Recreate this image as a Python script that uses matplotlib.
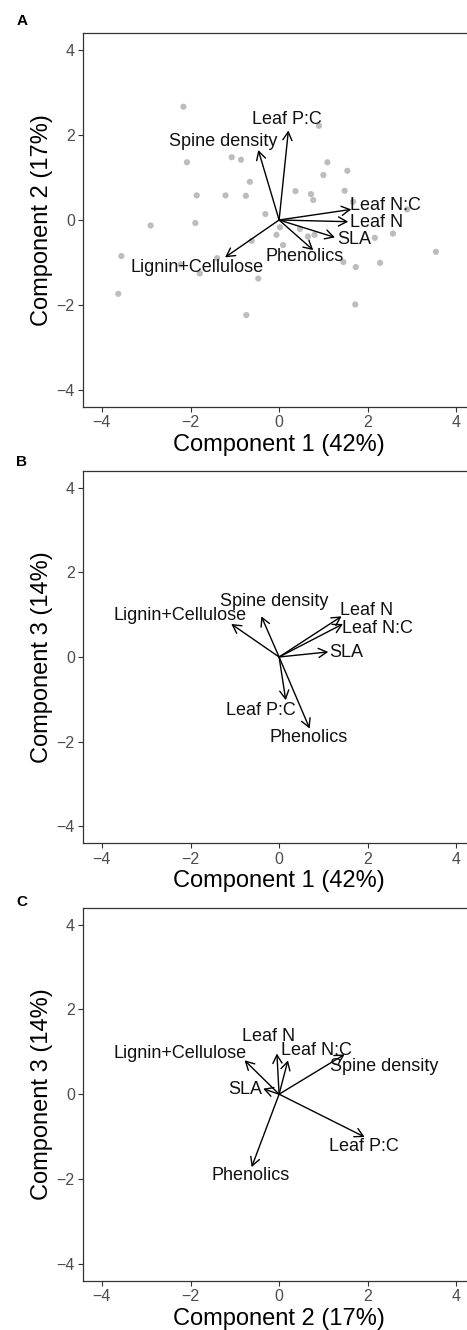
import matplotlib
matplotlib.use("Agg")
import matplotlib.pyplot as plt

plt.rcParams['font.family'] = ['Liberation Sans', 'DejaVu Sans']

# ---------------- data ----------------
variables = ["Leaf P:C", "Spine density", "Leaf N:C", "Leaf N", "SLA", "Phenolics", "Lignin+Cellulose"]

# Panel A: Component 1 vs Component 2
a_arrow_x = [0.21, -0.47, 1.63, 1.56, 1.26, 0.77, -1.22]
a_arrow_y = [2.11, 1.65, 0.25, -0.04, -0.41, -0.71, -0.88]
a_label_x = [0.18, -1.26, 2.39, 2.21, 1.69, 0.58, -1.85]
a_label_y = [2.38, 1.86, 0.33, -0.06, -0.47, -0.86, -1.12]

# scores (panel A only)
score_x = [-2.16, 0.90, -2.08, -1.07, -0.86, 1.09, 1.54, 1.00, -0.66, -1.86,
           -1.21, -0.75, 0.37, 0.72, 0.77, 1.48, 1.67, 2.89, -0.31, -1.89,
           -2.90, 0.02, -0.06, 0.65, 0.80, 0.09, -0.62, 0.47, 2.16, 2.57,
           3.54, -3.56, -1.40, -2.22, -1.79, -0.47, 1.45, 1.73, 2.28, -3.63,
           1.72, -0.74]
score_y = [2.67, 2.22, 1.36, 1.48, 1.42, 1.36, 1.16, 1.06, 0.90, 0.58,
           0.58, 0.57, 0.68, 0.61, 0.47, 0.69, 0.43, 0.25, 0.14, -0.07,
           -0.13, -0.17, -0.35, -0.39, -0.35, -0.59, -0.49, -0.21, -0.42, -0.32,
           -0.75, -0.85, -0.90, -1.05, -1.26, -1.38, -0.99, -1.11, -1.01, -1.74,
           -1.99, -2.24]

# Panel B: Component 1 vs Component 3
b_arrow_x = [0.15, -0.40, 1.44, 1.41, 1.11, 0.69, -1.08]
b_arrow_y = [-1.02, 0.96, 0.78, 0.96, 0.12, -1.69, 0.78]
b_label_x = [-0.41, -0.10, 2.21, 1.97, 1.52, 0.67, -2.24]
b_label_y = [-1.26, 1.31, 0.68, 1.11, 0.11, -1.91, 0.97]

# Panel C: Component 2 vs Component 3
c_arrow_x = [1.93, 1.48, 0.20, -0.05, -0.36, -0.62, -0.78]
c_arrow_y = [-1.01, 0.94, 0.80, 0.96, 0.13, -1.72, 0.80]
c_label_x = [1.91, 2.37, 0.85, -0.23, -0.77, -0.64, -2.23]
c_label_y = [-1.23, 0.65, 1.03, 1.36, 0.11, -1.92, 0.96]

ticks = [-4, -2, 0, 2, 4]
tick_labels = ["\u22124", "\u22122", "0", "2", "4"]

# ---------------- figure ----------------
W, H = 467, 1330
fig = plt.figure(figsize=(W / 100, H / 100), dpi=100)

def px_axes(left, top, right, bottom):
    return [left / W, 1 - bottom / H, (right - left) / W, (bottom - top) / H]

axA = fig.add_axes(px_axes(83.3, 33.3, 474.9, 406.7))
axB = fig.add_axes(px_axes(83.3, 470.7, 474.9, 843.3))
axC = fig.add_axes(px_axes(83.3, 907.7, 474.9, 1280.7))

def style(ax, xlabel, ylabel):
    ax.set_xlim(-4.42, 4.42)
    ax.set_ylim(-4.4, 4.4)
    ax.set_xticks(ticks)
    ax.set_xticklabels(tick_labels)
    ax.set_yticks(ticks)
    ax.set_yticklabels(tick_labels)
    for s in ax.spines.values():
        s.set_color('#333333')
        s.set_linewidth(0.9)
    ax.tick_params(length=3.6, width=0.8, color='#333333', labelcolor='#4D4D4D',
                   labelsize=11.5, pad=2.5)
    ax.set_xlabel(xlabel, fontsize=17, color='black', va='center')
    ax.set_ylabel(ylabel, fontsize=17, color='black', va='center')
    ax.xaxis.set_label_coords(0.5, -38.0 / 373.4)
    ax.yaxis.set_label_coords(-41.6 / 391.6, 0.5)

def biplot(ax, ax_x, ax_y, lx, ly):
    for name, x, y, tx, ty in zip(variables, ax_x, ax_y, lx, ly):
        ax.annotate('', xy=(x, y), xytext=(0, 0),
                    arrowprops=dict(arrowstyle='->,head_length=0.6,head_width=0.33',
                                    lw=1.0, color='black', shrinkA=0, shrinkB=0),
                    zorder=3)
        ax.text(tx, ty, name, ha='center', va='center', fontsize=13, color='#111111', zorder=4)

axA.scatter(score_x, score_y, s=20, color='#BDBDBD', edgecolors='none', zorder=2)
biplot(axA, a_arrow_x, a_arrow_y, a_label_x, a_label_y)
style(axA, "Component 1 (42%)", "Component 2 (17%)")

biplot(axB, b_arrow_x, b_arrow_y, b_label_x, b_label_y)
style(axB, "Component 1 (42%)", "Component 3 (14%)")

biplot(axC, c_arrow_x, c_arrow_y, c_label_x, c_label_y)
style(axC, "Component 2 (17%)", "Component 3 (14%)")

for letter, ypx in [("A", 20.7), ("B", 461.5), ("C", 901.7)]:
    fig.text(21.7 / W, 1 - ypx / H, letter, ha='center', va='center',
             fontsize=11, fontweight='bold')

fig.savefig("out.png", dpi=100)
